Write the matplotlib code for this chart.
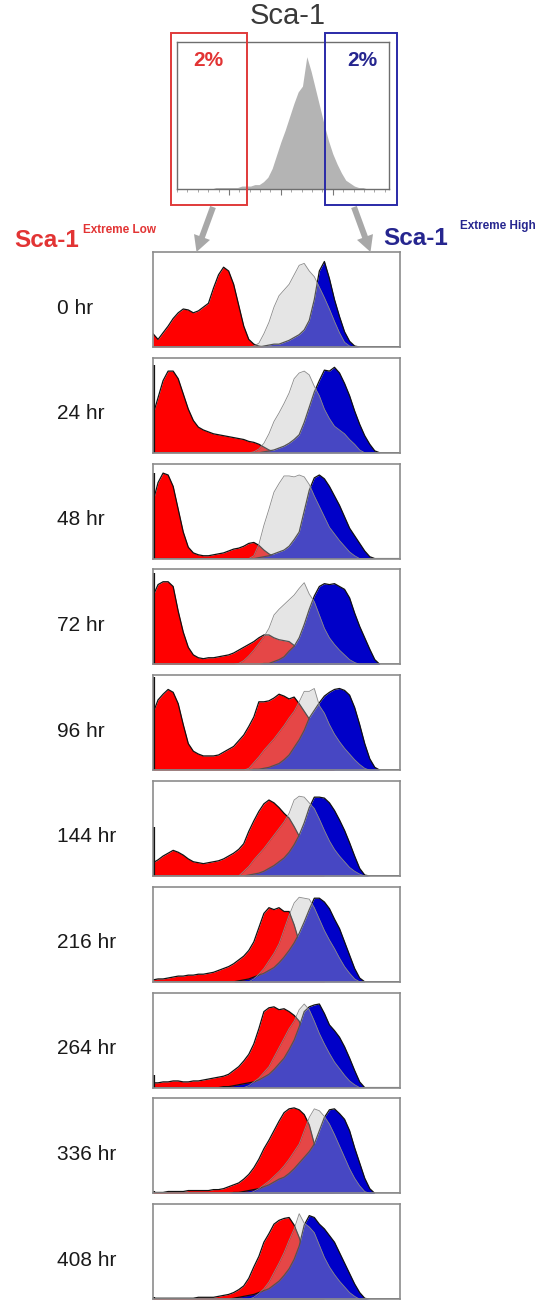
import numpy as np
import matplotlib
matplotlib.use('Agg')
import matplotlib.pyplot as plt
from matplotlib.patches import Rectangle, FancyArrow

plt.rcParams['font.family'] = ['Liberation Sans', 'DejaVu Sans']

# %% data (50 channels, % of panel height)
CHANNELS = np.arange(50)

SCA1_ALL = [0, 0, 0, 0, 0, 0, 0, 0, 0, 1, 1, 1, 1, 1, 1, 2, 2, 2, 3, 3,
            5, 8, 14, 23, 32, 40, 49, 58, 66, 70, 90, 80, 68, 56, 44, 33, 24, 17, 11, 6,
            4, 2, 1, 1, 0, 0, 0, 0, 0, 0]

TIMES = ['0 hr', '24 hr', '48 hr', '72 hr', '96 hr',
         '144 hr', '216 hr', '264 hr', '336 hr', '408 hr']

# Sca-1 extreme low sorted cells
LOW = [
    [14, 8, 15, 22, 30, 36, 40, 39, 36, 38, 42, 46, 62, 76, 84, 80, 66, 44, 22, 8,
     3, 1, 0, 0, 0, 0, 0, 0, 0, 0, 0, 0, 0, 0, 0, 0, 0, 0, 0, 0,
     0, 0, 0, 0, 0, 0, 0, 0, 0, 0],
    [40, 58, 76, 86, 86, 78, 62, 46, 34, 27, 24, 22, 20, 19, 18, 17, 16, 15, 14, 12,
     11, 9, 6, 3, 1, 0, 0, 0, 0, 0, 0, 0, 0, 0, 0, 0, 0, 0, 0, 0,
     0, 0, 0, 0, 0, 0, 0, 0, 0, 0],
    [60, 80, 90, 88, 76, 52, 28, 12, 6, 4, 3, 3, 4, 5, 6, 8, 10, 11, 13, 16,
     17, 14, 9, 5, 2, 0, 0, 0, 0, 0, 0, 0, 0, 0, 0, 0, 0, 0, 0, 0,
     0, 0, 0, 0, 0, 0, 0, 0, 0, 0],
    [72, 84, 87, 87, 82, 56, 34, 18, 10, 7, 6, 7, 7, 8, 9, 10, 12, 15, 18, 21,
     24, 28, 31, 31, 28, 26, 25, 24, 20, 16, 10, 5, 2, 0, 0, 0, 0, 0, 0, 0,
     0, 0, 0, 0, 0, 0, 0, 0, 0, 0],
    [60, 74, 80, 85, 82, 70, 48, 28, 20, 17, 15, 15, 15, 16, 19, 22, 25, 31, 37, 46,
     56, 72, 72, 73, 76, 80, 78, 75, 77, 70, 62, 54, 40, 24, 10, 3, 0, 0, 0, 0,
     0, 0, 0, 0, 0, 0, 0, 0, 0, 0],
    [14, 17, 21, 24, 27, 25, 22, 18, 15, 14, 13, 14, 15, 16, 18, 21, 24, 28, 34, 47,
     58, 68, 76, 80, 77, 72, 66, 61, 52, 42, 30, 18, 8, 3, 0, 0, 0, 0, 0, 0,
     0, 0, 0, 0, 0, 0, 0, 0, 0, 0],
    [2, 3, 3, 4, 5, 6, 6, 7, 7, 8, 8, 9, 10, 12, 14, 16, 19, 23, 27, 33,
     42, 57, 72, 78, 76, 78, 74, 74, 60, 42, 28, 16, 8, 3, 0, 0, 0, 0, 0, 0,
     0, 0, 0, 0, 0, 0, 0, 0, 0, 0],
    [5, 5, 6, 6, 7, 7, 6, 6, 7, 7, 8, 9, 10, 11, 12, 14, 18, 22, 28, 35,
     46, 62, 80, 84, 85, 82, 83, 80, 76, 70, 56, 38, 22, 10, 3, 0, 0, 0, 0, 0,
     0, 0, 0, 0, 0, 0, 0, 0, 0, 0],
    [1, 1, 1, 2, 2, 2, 2, 3, 3, 3, 3, 3, 4, 4, 5, 7, 9, 11, 15, 20,
     27, 36, 47, 56, 66, 76, 85, 89, 90, 88, 83, 72, 52, 32, 14, 4, 0, 0, 0, 0,
     0, 0, 0, 0, 0, 0, 0, 0, 0, 0],
    [1, 1, 1, 1, 1, 1, 1, 1, 1, 2, 2, 2, 2, 3, 4, 5, 7, 10, 14, 22,
     34, 45, 60, 69, 79, 83, 85, 86, 78, 65, 48, 30, 15, 5, 0, 0, 0, 0, 0, 0,
     0, 0, 0, 0, 0, 0, 0, 0, 0, 0],
]

# Sca-1 extreme high sorted cells
HIGH = [
    [0, 0, 0, 0, 0, 0, 0, 0, 0, 0, 0, 0, 0, 0, 0, 0, 0, 0, 0, 0,
     0, 0, 1, 2, 3, 3, 5, 7, 10, 13, 18, 28, 50, 80, 90, 72, 50, 32, 16, 6,
     1, 0, 0, 0, 0, 0, 0, 0, 0, 0],
    [0, 0, 0, 0, 0, 0, 0, 0, 0, 0, 0, 0, 0, 0, 0, 0, 0, 0, 0, 0,
     0, 0, 1, 2, 3, 5, 7, 10, 14, 19, 32, 48, 64, 76, 87, 86, 90, 84, 73, 60,
     44, 30, 18, 9, 2, 0, 0, 0, 0, 0],
    [0, 0, 0, 0, 0, 0, 0, 0, 0, 0, 0, 0, 0, 0, 0, 0, 0, 0, 0, 0,
     0, 1, 2, 3, 5, 7, 9, 13, 20, 28, 50, 72, 85, 88, 84, 76, 66, 56, 44, 32,
     24, 16, 8, 2, 0, 0, 0, 0, 0, 0],
    [0, 0, 0, 0, 0, 0, 0, 0, 0, 0, 0, 0, 0, 0, 0, 0, 0, 0, 0, 0,
     0, 0, 1, 1, 3, 5, 8, 14, 19, 28, 42, 58, 72, 82, 85, 84, 85, 82, 79, 70,
     54, 40, 28, 16, 5, 0, 0, 0, 0, 0],
    [0, 0, 0, 0, 0, 0, 0, 0, 0, 0, 0, 0, 0, 0, 0, 0, 0, 0, 0, 0,
     1, 1, 2, 3, 5, 7, 11, 16, 24, 32, 42, 55, 63, 71, 78, 82, 85, 86, 84, 79,
     66, 48, 28, 12, 3, 0, 0, 0, 0, 0],
    [0, 0, 0, 0, 0, 0, 0, 0, 0, 0, 0, 0, 0, 0, 0, 0, 0, 0, 0, 1,
     2, 3, 5, 8, 11, 15, 19, 25, 33, 43, 56, 72, 83, 83, 82, 77, 69, 59, 48, 35,
     21, 8, 1, 0, 0, 0, 0, 0, 0, 0],
    [0, 0, 0, 0, 0, 0, 0, 0, 0, 0, 0, 0, 0, 0, 0, 0, 0, 1, 2, 3,
     5, 7, 9, 12, 15, 20, 26, 33, 41, 51, 63, 76, 88, 88, 84, 77, 66, 56, 42, 28,
     14, 4, 0, 0, 0, 0, 0, 0, 0, 0],
    [0, 0, 0, 0, 0, 0, 0, 0, 0, 0, 0, 0, 0, 0, 1, 1, 2, 3, 4, 5,
     6, 8, 11, 14, 19, 25, 31, 40, 50, 64, 80, 85, 87, 88, 78, 66, 60, 53, 43, 31,
     18, 6, 0, 0, 0, 0, 0, 0, 0, 0],
    [0, 0, 0, 0, 0, 0, 0, 0, 0, 0, 0, 0, 0, 0, 0, 0, 1, 1, 2, 3,
     4, 5, 7, 9, 12, 15, 17, 21, 26, 32, 38, 44, 52, 66, 80, 88, 89, 84, 78, 66,
     48, 32, 16, 5, 0, 0, 0, 0, 0, 0],
    [0, 0, 0, 0, 0, 0, 0, 0, 0, 0, 0, 0, 0, 0, 0, 0, 1, 2, 3, 4,
     5, 7, 9, 11, 15, 19, 25, 32, 42, 56, 78, 88, 86, 79, 74, 67, 60, 49, 38, 27,
     16, 7, 1, 0, 0, 0, 0, 0, 0, 0],
]

# unsorted control
UNSORTED = [
    [0, 0, 0, 0, 0, 0, 0, 0, 0, 0, 0, 0, 0, 0, 0, 0, 0, 0, 0, 0,
     1, 4, 14, 26, 42, 54, 60, 66, 76, 86, 88, 80, 74, 63, 52, 40, 27, 15, 5, 1,
     0, 0, 0, 0, 0, 0, 0, 0, 0, 0],
    [0, 0, 0, 0, 0, 0, 0, 0, 0, 0, 0, 0, 0, 0, 0, 0, 0, 0, 0, 0,
     1, 4, 10, 20, 33, 42, 52, 63, 78, 84, 86, 82, 70, 60, 46, 36, 28, 24, 20, 14,
     9, 3, 0, 0, 0, 0, 0, 0, 0, 0],
    [0, 0, 0, 0, 0, 0, 0, 0, 0, 0, 0, 0, 0, 0, 0, 0, 0, 0, 0, 0,
     3, 15, 35, 52, 70, 79, 87, 87, 86, 88, 86, 78, 66, 55, 44, 33, 26, 19, 13, 7,
     3, 0, 0, 0, 0, 0, 0, 0, 0, 0],
    [0, 0, 0, 0, 0, 0, 0, 0, 0, 0, 0, 0, 0, 0, 0, 0, 0, 1, 4, 9,
     15, 22, 29, 38, 52, 58, 63, 68, 73, 80, 86, 74, 66, 52, 38, 28, 21, 15, 10, 5,
     2, 0, 0, 0, 0, 0, 0, 0, 0, 0],
    [0, 0, 0, 0, 0, 0, 0, 0, 0, 0, 0, 0, 0, 0, 0, 0, 0, 0, 0, 2,
     8, 14, 21, 27, 33, 40, 47, 55, 62, 72, 83, 83, 86, 68, 60, 48, 38, 30, 23, 17,
     11, 6, 2, 0, 0, 0, 0, 0, 0, 0],
    [0, 0, 0, 0, 0, 0, 0, 0, 0, 0, 0, 0, 0, 0, 0, 0, 0, 0, 5, 10,
     17, 23, 29, 36, 43, 50, 57, 66, 80, 84, 83, 77, 71, 60, 48, 37, 28, 21, 15, 9,
     5, 2, 0, 0, 0, 0, 0, 0, 0, 0],
    [0, 0, 0, 0, 0, 0, 0, 0, 0, 0, 0, 0, 0, 0, 0, 0, 0, 0, 0, 0,
     3, 8, 14, 22, 30, 40, 55, 70, 83, 89, 88, 87, 78, 66, 54, 44, 35, 25, 16, 9,
     3, 0, 0, 0, 0, 0, 0, 0, 0, 0],
    [0, 0, 0, 0, 0, 0, 0, 0, 0, 0, 0, 0, 0, 0, 0, 0, 0, 0, 0, 2,
     6, 10, 16, 22, 32, 42, 52, 62, 70, 82, 88, 82, 70, 57, 46, 36, 27, 20, 13, 7,
     3, 0, 0, 0, 0, 0, 0, 0, 0, 0],
    [0, 0, 0, 0, 0, 0, 0, 0, 0, 0, 0, 0, 0, 0, 0, 0, 0, 0, 0, 0,
     2, 5, 9, 13, 18, 23, 29, 36, 44, 52, 66, 80, 89, 87, 81, 73, 62, 50, 38, 26,
     16, 8, 2, 0, 0, 0, 0, 0, 0, 0],
    [0, 0, 0, 0, 0, 0, 0, 0, 0, 0, 0, 0, 0, 0, 0, 0, 0, 0, 0, 0,
     2, 6, 11, 18, 28, 38, 49, 62, 74, 90, 80, 76, 70, 57, 44, 34, 26, 19, 13, 7,
     3, 0, 0, 0, 0, 0, 0, 0, 0, 0],
]

# off-scale events piled up in the first channel
EDGE_SPIKE = [0, 92, 90, 96, 98, 52, 0, 13, 3, 2]

RED = '#ff0000'
BLUE = '#0000c8'
RED_TEXT = '#e23434'
BLUE_TEXT = '#26268f'

W, H = 545, 1302
fig = plt.figure(figsize=(W / 100, H / 100), dpi=100)


def px_axes(left, top, width, height):
    return fig.add_axes([left / W, 1 - (top + height) / H, width / W, height / H])


def frame(ax, color='#8c8c8c', lw=1.2):
    for sp in ax.spines.values():
        sp.set_color(color)
        sp.set_linewidth(lw)
        sp.set_zorder(10)


# %% top histogram of all cells
ax = px_axes(177, 42, 212, 147)
ax.fill_between(CHANNELS, SCA1_ALL, color='#b4b4b4', lw=0)
ax.set_xlim(0, 49)
ax.set_ylim(0, 100)
ax.set_yticks([])
ax.set_xticks([12, 24, 36])
ax.set_xticks(np.arange(0, 50, 2.4), minor=True)
ax.tick_params(axis='x', which='major', length=4, color='#777777', labelbottom=False)
ax.tick_params(axis='x', which='minor', length=2, color='#999999')
frame(ax, '#6e6e6e', 1.0)

# %% time course panels
for i, label in enumerate(TIMES):
    top = 252 + i * 105.8
    ax = px_axes(153, top, 247, 95)
    low = LOW[i]
    high = HIGH[i]
    ctrl = UNSORTED[i]
    ax.fill_between(CHANNELS, low, color=RED, lw=0, zorder=1)
    ax.plot(CHANNELS, low, color='#111111', lw=0.9, zorder=2)
    ax.fill_between(CHANNELS, high, color=BLUE, lw=0, zorder=3)
    ax.plot(CHANNELS, high, color='#111111', lw=0.9, zorder=4)
    ax.fill_between(CHANNELS, ctrl, color='#bdbdbd', alpha=0.38, lw=0, zorder=5)
    ax.plot(CHANNELS, ctrl, color='#8a8a8a', lw=0.6, zorder=6)
    if EDGE_SPIKE[i]:
        ax.vlines(0.15, 0, EDGE_SPIKE[i], color='#111111', lw=1.6, zorder=7)
    ax.set_xlim(0, 49)
    ax.set_ylim(0, 100)
    ax.set_xticks([])
    ax.set_yticks([])
    frame(ax)
    fig.text(57 / W, 1 - (top + 56) / H, label, fontsize=15, color='#1a1a1a',
             ha='left', va='center')

# %% annotations in pixel coordinates
ov = fig.add_axes([0, 0, 1, 1])
ov.set_xlim(0, W)
ov.set_ylim(H, 0)
ov.axis('off')
ov.patch.set_visible(False)

ov.text(288, 16, 'Sca-1', fontsize=21, color='#3a3a3a', ha='center', va='center')
ov.add_patch(Rectangle((170.5, 33), 76, 172, fill=False, ec='#e03a3a', lw=1.4))
ov.add_patch(Rectangle((324.5, 33), 72.5, 172, fill=False, ec='#2a2aa8', lw=1.4))
ov.text(208, 61, '2%', fontsize=15, fontweight='bold', color=RED_TEXT, ha='center', va='center')
ov.text(362, 61, '2%', fontsize=15, fontweight='bold', color=BLUE_TEXT, ha='center', va='center')

ov.add_patch(FancyArrow(213, 207, -11, 30, width=6, head_width=17, head_length=16,
                        length_includes_head=False, color='#a8a8a8', lw=0))
ov.add_patch(FancyArrow(354, 207, 11, 30, width=6, head_width=17, head_length=16,
                        length_includes_head=False, color='#a8a8a8', lw=0))

ov.text(14, 247, 'Sca-1', fontsize=17.5, fontweight='bold', color=RED_TEXT,
        ha='left', va='baseline')
ov.text(83, 233, 'Extreme Low', fontsize=8.5, fontweight='bold', color=RED_TEXT,
        ha='left', va='baseline')
ov.text(383, 245, 'Sca-1', fontsize=17.5, fontweight='bold', color=BLUE_TEXT,
        ha='left', va='baseline')
ov.text(460, 229, 'Extreme High', fontsize=8.5, fontweight='bold', color=BLUE_TEXT,
        ha='left', va='baseline')

fig.savefig('out.png', dpi=100, facecolor='white')
